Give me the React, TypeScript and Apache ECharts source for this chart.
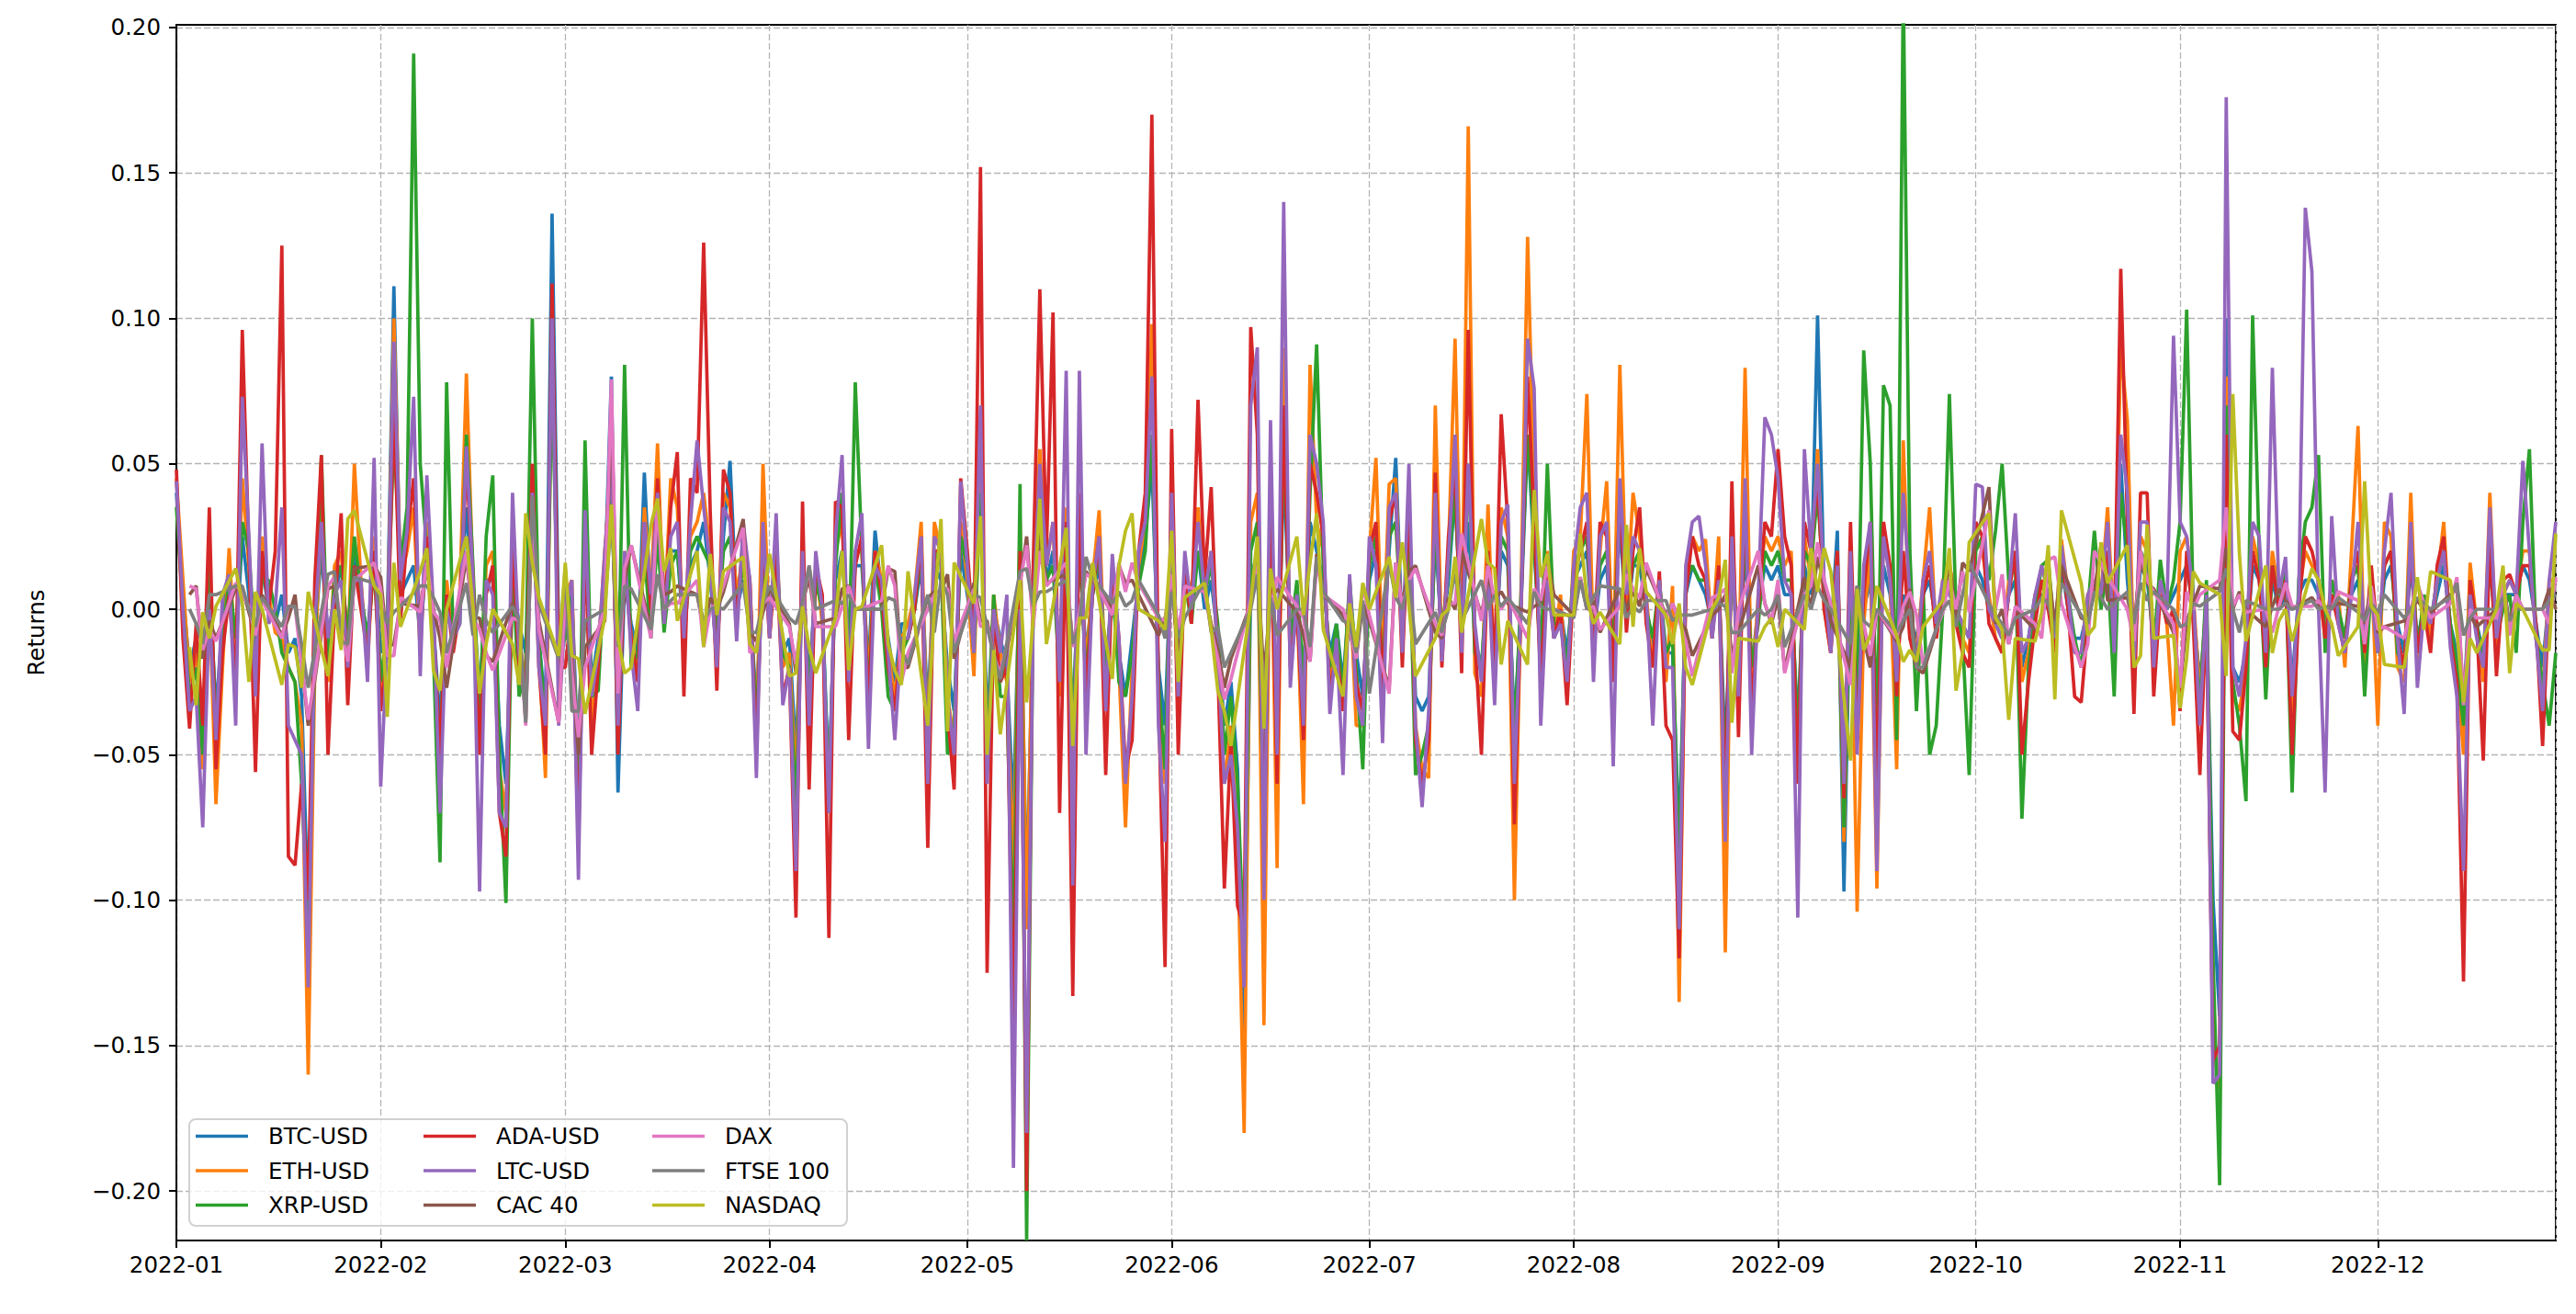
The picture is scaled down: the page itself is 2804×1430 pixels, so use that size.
import React, { useEffect, useRef } from "react";
import * as echarts from "echarts";

// ---------- Data (daily returns, in thousandths) ----------
const SERIES_NAMES = ["BTC-USD", "ETH-USD", "XRP-USD", "ADA-USD", "LTC-USD", "CAC 40", "DAX", "FTSE 100", "NASDAQ"];
const SERIES_COLORS = ["#1f77b4", "#ff7f0e", "#2ca02c", "#d62728", "#9467bd", "#8c564b", "#e377c2", "#7f7f7f", "#bcbd22"];

const CRYPTO_START = "2022-01-01";
const CRYPTO_DAYS = 362;
const INDEX_START = "2022-01-03";
const INDEX_END = "2022-12-28";
const X_MIN = "2022-01-01";
const X_MAX = "2022-12-28";
const Y_MIN = -0.217;
const Y_MAX = 0.2009;
const Y_TICKS = [-0.2, -0.15, -0.1, -0.05, 0, 0.05, 0.1, 0.15, 0.2];

const btcUsd = [
  40,5,-20,-10,-45,10,-35,-5,15,-15,25,5,-20,15,0,-5,5,-15,-10,-30,-105,-10,20,-10,5,15,-10,20,5,-10,20,
  -15,-5,111,5,10,15,-10,20,-5,-40,5,-5,0,35,5,-30,10,10,-40,-60,10,-5,-15,30,-10,-35,136,-10,
  0,5,-55,20,-25,-10,10,80,-63,10,-5,-15,47,0,30,-5,20,20,-10,15,20,30,10,-15,25,51,0,10,5,-35,20,
  -5,15,-15,-10,-50,10,-25,10,0,-60,10,20,-15,15,15,-20,27,5,-10,-25,-5,-5,0,15,-35,15,10,-20,-35,20,
  5,-10,40,-40,0,-10,-20,-70,20,-100,0,40,10,20,-20,20,-40,20,-15,5,15,-20,5,-15,-30,-10,10,25,50,-20,-40,
  25,-25,10,0,20,0,10,-10,-40,-25,-55,-150,10,20,-70,30,-40,50,-10,0,-30,30,20,10,-15,-5,-25,5,-15,-30,
  10,20,-15,20,52,-10,25,-30,-35,-30,25,-10,10,40,-10,30,-10,-20,10,-15,20,15,-40,0,60,20,-15,10,-5,0,-15,
  10,15,20,-10,10,15,-15,30,-5,15,15,0,-15,5,-15,-15,-80,5,15,10,5,-5,10,-50,15,-15,20,-20,0,15,10,
  15,5,5,-40,15,5,101,5,-10,27,-97,15,-40,0,10,-40,15,5,-20,5,-5,-10,5,10,-5,5,10,0,-5,-10,
  15,10,0,-5,-10,5,10,-20,-10,5,5,0,-5,15,0,-10,-10,0,5,5,20,-5,50,10,-15,15,10,-10,5,0,5,
  10,15,0,-25,0,-100,-140,100,-20,-25,-15,15,10,-10,10,0,5,-25,5,10,10,5,-5,5,0,-10,5,10,-10,5,
  -10,10,15,-5,-15,15,-10,0,-5,5,15,-5,-15,-35,10,-5,-15,15,-10,5,5,5,15,10,-5,-20,5,5,
];

const ethUsd = [
  45,10,-25,-15,-55,5,-67,-20,21,-20,45,15,-30,25,5,-8,-10,-20,-25,-40,-160,-20,35,-25,15,20,-15,50,10,-20,25,
  -30,-10,100,10,20,35,-15,30,-10,-55,10,-10,5,81,10,-45,15,20,-55,-70,20,-10,-25,50,-15,-58,95,-25,
  5,10,-75,30,-40,-15,20,50,-45,20,-10,-20,35,5,57,-5,45,35,-15,25,30,40,20,-20,40,35,5,20,10,-45,50,
  -10,25,-20,-15,-60,20,-35,15,-5,-70,20,30,-20,20,20,-25,20,10,-15,-30,-10,-5,5,30,-50,30,20,-30,-45,30,
  10,-23,50,-55,5,-15,-25,-90,30,-110,10,55,15,30,-30,35,-55,30,-20,10,34,-30,10,-20,-75,-20,15,30,98,-30,-60,
  35,-35,15,5,35,5,20,-15,-60,-40,-80,-180,30,40,-143,45,-89,90,-15,5,-67,84,30,20,-25,-10,-35,10,-40,-40,
  20,52,-20,43,45,-15,35,-40,-55,-58,70,-15,20,93,-15,166,-22,-30,36,-25,35,25,-100,5,128,40,-25,20,-10,5,-30,
  20,25,74,-15,20,44,-20,84,0,40,25,5,-20,10,-25,8,-135,10,25,20,24,-10,25,-118,30,-25,83,-30,5,25,20,
  25,15,20,-60,25,10,55,0,-15,20,-80,20,-104,-5,20,-96,30,10,-55,58,-10,-15,10,35,-10,10,15,5,-10,-15,
  25,20,5,-10,-15,10,20,-25,-15,5,10,5,-10,24,5,-15,-15,5,10,5,35,-10,90,65,-20,25,20,-15,10,-5,-40,
  20,25,5,-30,5,-150,-165,80,-30,-35,-20,25,15,-15,20,5,10,-35,5,20,15,10,-10,10,5,-20,20,63,-20,15,
  -40,30,25,-20,-25,40,-20,5,-10,10,30,-10,-20,-50,16,-5,-25,40,-15,5,10,5,20,20,-10,-30,10,10,
];

const xrpUsd = [
  35,0,-30,-20,-50,15,-40,-10,10,-10,30,20,-15,10,10,0,-15,-20,-25,-60,-110,-15,53,-20,10,15,-10,25,5,-10,15,
  -25,-5,60,15,35,191,50,20,-15,-87,78,-10,-5,60,15,-40,25,46,-50,-101,15,-30,-20,100,-10,-40,80,-15,
  -10,5,-70,58,-30,-28,15,40,-30,84,-20,-15,20,-10,25,-8,15,20,-5,20,25,20,15,-10,20,25,0,15,5,-40,15,
  -5,20,-15,-20,-70,15,-30,10,0,-65,15,40,-20,78,20,-30,15,0,-30,-35,-15,-10,0,20,-55,20,15,-50,-40,25,
  15,-15,40,-50,5,-30,-30,-120,43,-217,5,30,10,15,-25,25,-45,25,-25,5,20,-25,10,-25,-30,-15,8,20,60,-25,-55,
  30,-25,10,-5,20,5,15,-5,-50,-30,-60,-120,20,30,-80,35,-45,60,-10,10,-25,40,91,15,-20,-5,-30,10,-20,-55,
  15,25,-25,25,30,-10,30,-57,-50,-40,30,-10,15,40,-10,50,-15,-20,15,-20,25,20,-45,5,60,25,-20,50,-5,-5,-20,
  15,20,25,-10,15,20,-15,35,5,15,20,0,-10,10,-15,-10,-90,10,15,10,10,-5,10,-60,20,-20,25,-20,-5,20,15,
  20,10,10,-45,20,15,40,5,-10,15,-75,10,-30,89,50,-45,77,70,-45,215,20,-35,8,-50,-40,0,74,0,-10,-57,
  20,25,10,27,50,10,15,-72,-20,0,15,17,-10,10,5,-10,-20,0,27,0,15,-30,40,20,-10,20,15,-15,17,0,10,
  30,103,0,-35,10,-120,-198,70,-25,-40,-66,101,20,-31,15,2,15,-63,10,30,35,53,-15,10,0,-10,10,15,-30,10,
  -15,15,20,-15,-20,25,-15,5,-5,10,20,-5,-20,-40,5,-5,-20,20,-10,0,5,-15,30,55,-10,-25,-40,-15,
];

const adaUsd = [
  48,-10,-41,-5,-40,35,-55,-15,5,-25,96,20,-56,20,0,20,125,-85,-88,-60,-100,10,53,-50,0,33,-33,15,0,-15,20,
  -35,-15,70,-4,25,45,-10,25,-5,-50,5,-15,0,50,10,-50,5,15,-70,-85,25,-20,-30,50,-20,-50,112,-20,
  -20,0,-80,25,-50,-20,15,60,-50,15,-10,-25,30,0,45,-5,35,54,-30,45,40,126,33,-28,48,40,-5,25,10,-50,25,
  -10,20,-30,-20,-106,37,-62,15,5,-113,37,35,-45,15,25,-35,20,5,-20,-35,-10,-10,0,25,-82,20,20,-35,-62,45,
  20,-10,152,-125,0,-25,-20,-150,20,-200,15,110,20,102,-70,30,-133,40,-30,5,25,-57,15,-10,-55,-45,20,40,170,-30,-123,
  62,-50,15,-5,72,10,42,-20,-96,-45,-102,-110,97,60,-85,40,-60,70,-20,0,-45,50,40,25,-30,-13,-35,5,-25,-35,
  20,30,-30,30,40,-20,40,-45,-60,-45,47,-20,25,50,-22,96,-10,-50,20,-20,67,30,-74,0,80,30,-25,15,-10,0,-33,
  10,20,30,-15,30,25,-25,40,-8,20,35,-5,-20,13,-40,-45,-120,5,25,15,10,-10,15,-70,44,-44,40,-35,0,30,25,
  55,25,15,-60,30,20,45,0,-15,20,-65,30,-45,5,30,-60,30,15,-30,20,-10,-20,5,15,-10,5,10,-5,-15,-20,
  30,25,-5,-10,-15,5,20,-50,-25,-5,10,0,-15,20,0,-30,-32,-5,10,5,20,-10,117,30,-36,40,40,-30,5,-5,0,
  -35,20,-5,-57,0,-155,-150,60,-42,-45,-20,20,10,-20,15,0,10,-50,0,25,20,10,-10,5,-5,-15,10,20,-15,15,
  -10,15,20,-10,-20,20,-15,0,-15,15,25,-10,-25,-128,10,-5,-52,25,-23,10,12,5,15,15,-5,-47,5,10,
];

const ltcUsd = [
  44,0,-35,-30,-75,0,-45,5,12,-40,73,25,-30,57,-5,0,35,-40,-45,-50,-130,-5,30,-10,5,10,-20,10,10,-25,52,
  -61,-10,92,10,27,73,-23,46,0,-70,0,-10,-5,56,10,-97,10,5,-70,-75,40,-15,-35,40,-20,-40,100,-40,
  0,10,-93,34,-30,-15,20,50,-40,20,-15,-35,30,5,40,-5,25,30,-10,30,58,35,15,-20,35,30,-11,30,10,-58,30,
  -10,33,-33,-20,-90,20,-40,20,0,-70,25,53,-25,20,33,-48,15,10,-15,-45,-10,-10,5,25,-60,25,20,-30,-50,44,
  15,-15,70,-60,0,-15,5,-192,0,-180,0,50,15,30,-25,82,-95,82,-50,8,25,-35,19,-10,-60,-30,20,30,80,-40,-80,
  40,-30,20,0,30,5,20,-15,-60,-50,-75,-130,70,90,-100,65,-50,140,-27,5,-40,60,50,30,-36,-10,-57,12,-30,-40,
  25,15,-46,35,40,-15,50,-40,-68,-35,40,-18,18,60,-15,50,-5,-25,15,-33,30,36,-60,0,93,76,-40,10,-10,-5,-25,
  15,35,40,-25,25,30,-54,45,5,25,20,5,-40,10,-20,-20,-110,15,30,32,15,-10,10,-80,25,-30,45,-50,5,66,60,
  45,10,5,-106,55,20,50,10,-15,15,-60,20,-50,15,30,-90,25,10,-25,40,5,-20,10,20,-5,10,5,0,-5,-10,
  43,42,0,-5,-10,5,33,-15,-10,5,15,5,-10,22,5,-15,-15,5,10,5,30,-15,60,40,-20,30,30,-20,10,0,94,
  30,25,5,-40,5,-163,-160,176,-20,-30,-10,30,25,-15,83,5,18,-30,5,138,116,0,-63,32,-5,-15,5,30,-10,5,
  -15,20,40,-10,-36,30,-27,0,-5,10,20,-13,-30,-90,5,-10,-20,35,-10,5,10,5,51,20,-10,-35,10,30,
];

// Index returns on weekdays (thousandths)
const cac40 = [
  5,8,-17,-4,-10, 7,7,-1,-9,5, -9,-3,5,-18,-40, 7,8,-6,-15,14, 15,11,-13,-12,2,
  1,14,0,-10,-27, 18,-3,-3,-16,-18, 2,-5,-38,36,-4, -39,10,-18,-50,-13, -4,71,-28,10,22,
  -7,36,5,6,8, 5,-7,4,0,6, 31,-8,-11,-1,7, -5,-22,2,11,-5, -3,7,8,0,0,
  0,14,13,-20,-20, 4,6,6,12,-17, 9,-4,-4,-15,-25, 9,25,-4,25,9, 12,-12,-2,13,10,
  0,15,9,10,5, -9,-3,8,-14,8, 6,-5,-14,-27,-17, 2,15,-23,3,7, -1,-9,-18,19,5,
  -2,-8,-17,2,-4, -27,16,2,13,15, -8,-10,4,0,20, -2,11,4,6,2, -1,1,2,17,5,
  -2,11,0,3,-8, 7,0,6,1,14, -2,2,-4,-7,-16, -2,0,5,-16,-8, 15,2,-5,4,-21,
  11,0,18,8,-4, -20,8,-10,-20,0, -11,-6,7,-20,-22, 0,16,-3,16,13, 42,-5,0,-12,0,
  -7,-3,14,-6,15, -3,-4,6,22,3, 4,-6,17,9,7, -8,-27,-4,2,8, 7,21,0,6,0,
  -6,1,7,3,0, 4,1,0,1,2, 1,-5,8,-8,-6, -4,0,3,0,-1, 5,7,-31,-2,-6,
  0,9,-5,5,0, 0,7,0,
];

const dax = [
  8,7,-14,-7,-11, 9,5,1,-9,3, -10,1,1,-19,-38, 8,11,-6,-18,10, 16,7,-16,-16,4,
  -1,16,-1,-4,-20, 20,-3,-7,-15,-21, -3,-4,-40,37,-7, -39,7,-22,-44,-20, 0,79,-29,14,22,
  -10,38,0,2,2, 10,-13,0,2,8, 28,-15,-13,2,4, -6,-19,1,15,-6, -6,1,8,0,0,
  3,15,8,-25,-15, 0,5,7,7,-11, 7,-6,-5,-16,-22, 9,22,-6,20,8, 16,-13,-1,12,11,
  -2,16,6,16,9, -3,-4,12,-8,8, 6,-7,-17,-31,-24, 3,15,-33,0,11, 1,-3,-18,16,5,
  0,-7,-17,8,-2, -29,16,1,10,14, -5,-9,2,2,26, -4,15,3,0,4, -10,7,3,15,0,
  -3,11,0,1,-7, 1,12,7,4,16, -3,2,-4,-11,-23, 4,5,7,-22,0, 20,2,-4,10,-22,
  5,8,23,10,2, -26,1,-5,-16,0, -10,1,6,-2,-19, -1,10,0,13,-1, 34,0,12,-12,1,
  -5,-10,17,18,2, -20,-12,20,16,11, 0,-11,20,10,6, -5,-27,6,0,5, 10,35,1,5,-1,
  0,-8,1,9,1, 1,3,0,0,6, 3,-12,8,-7,-6, -10,0,9,2,-3, 2,11,-33,0,-3,
  -3,10,-9,5,0, 0,-5,11,
];

const ftse100 = [
  0,-5,-12,5,5, 8,8,0,-6,4, -6,1,1,-12,-27, 12,13,-11,-12,11, 9,1,-5,-1,1,
  8,8,4,-1,-15, 9,-9,5,-4,-8, 1,-4,-39,39,2, -17,14,-35,-35,-4, 0,33,-13,8,7,
  -7,12,0,3,5, 5,-4,0,1,0, 9,-8,-8,2,8, -3,-5,2,15,0, 3,2,5,0,0,
  0,4,3,-14,-19, 5,-8,10,5,-15, 5,4,-6,-16,-24, 13,14,1,6,6, 10,-12,-5,18,11,
  2,6,1,3,10, -2,-10,6,-10,-3, 10,-8,-6,-20,-15, 0,12,-32,4,-9, 0,0,-13,18,6,
  -4,-5,-15,3,-29, 16,4,0,10,-12, -1,-8,0,13,-4, 10,0,5,1,4, -5,6,1,0,0,
  -3,10,0,4,8, 7,-3,1,-1,3, 3,-4,-2,-2,-2, 0,2,1,-8,-8, 0,-2,0,5,-13,
  5,0,8,3,0, -12,8,-4,-6,0, -8,-4,0,-20,-20, 0,3,-6,5,16, 2,-2,-5,-9,-3,
  0,4,2,-8,9, -2,-5,6,4,0, 6,-5,9,3,6, 0,-6,-5,2,1, 6,14,0,-8,3,
  0,0,0,2,0, 3,0,1,0,4, -1,-4,2,-1,5, -3,0,4,2,0, 4,9,-9,-3,0,
  0,4,-4,0,0, 0,3,5,
];

const nasdaq = [
  -13,-33,-1,-10,1, 14,2,-25,6,0, -26,-12,-13,-27,6, -23,0,-14,31,34, 8,5,-37,16,-6,
  13,21,-21,-28,0, 25,1,-29,-12,0, -12,-26,33,16,4, -16,16,-16,-17,-36, -3,36,-10,-22,-20,
  29,38,13,21,-4, 20,-13,19,-2,13, 18,-12,-15,3,19, -23,-22,1,-13,-22, -3,20,-21,0,1,
  22,-12,-21,-26,13, -40,0,31,-42,16, 2,32,-50,-14,-43, 10,-32,-3,38,-12, 28,-47,-3,-3,16,
  -24,15,27,33,0, -4,-7,27,-25,4, 9,-7,-28,-35,-47, 2,25,-41,14,0, 25,-2,16,33,-7,
  -30,2,-13,9,0, 18,4,23,1,-23, -10,-2,0,18,-8, 31,16,14,-19,-4, -19,41,11,19,-2,
  -2,26,4,-5,-1, -12,29,-6,21,6, -2,-12,2,-20,-26, 0,4,17,-39,-10, -11,-6,-3,-13,0,
  -7,21,6,21,13, -52,7,-14,-9,8, -9,-18,-14,-18,-6, 3,21,-28,-15,23, 33,-3,-7,-38,-10,
  -11,-1,22,-31,34, 9,-9,-6,23,9, 22,-20,-16,29,-10, -9,-34,-17,13,9, 5,-23,74,19,-11,
  15,-15,-4,0,-11, 14,10,0,-5,-16, -6,44,1,-2,-19, -20,-5,11,-7,13, 10,-8,-32,-10,-15,
  0,15,-22,2,0, -14,-14,26,
];

// ---------- Helpers ----------
function fmtDate(d: Date): string {
  const m = String(d.getMonth() + 1).padStart(2, "0");
  const day = String(d.getDate()).padStart(2, "0");
  return `${d.getFullYear()}-${m}-${day}`;
}
function parseYMD(s: string): Date {
  const [y, m, d] = s.split("-").map(Number);
  return new Date(y, m - 1, d);
}
function dailyDates(start: string, n: number): string[] {
  const out: string[] = [];
  const d = parseYMD(start);
  for (let i = 0; i < n; i++) {
    out.push(fmtDate(d));
    d.setDate(d.getDate() + 1);
  }
  return out;
}
function weekdayDates(start: string, end: string): string[] {
  const out: string[] = [];
  const d = parseYMD(start);
  const e = parseYMD(end);
  while (d <= e) {
    const wd = d.getDay();
    if (wd > 0 && wd < 6) out.push(fmtDate(d));
    d.setDate(d.getDate() + 1);
  }
  return out;
}

const FONT = "DejaVu Sans";

export default function App() {
  const ref = useRef<HTMLDivElement>(null);

  useEffect(() => {
    if (!ref.current) return;
    const chart = echarts.init(ref.current, null, { renderer: "svg" });

    const cryptoDates = dailyDates(CRYPTO_START, CRYPTO_DAYS);
    const indexDates = weekdayDates(INDEX_START, INDEX_END);
    const allValues = [btcUsd, ethUsd, xrpUsd, adaUsd, ltcUsd, cac40, dax, ftse100, nasdaq];

    const series = SERIES_NAMES.map((name, k) => {
      const dates = k < 5 ? cryptoDates : indexDates;
      const vals = allValues[k];
      const n = Math.min(dates.length, vals.length);
      const data: [string, number][] = [];
      for (let i = 0; i < n; i++) data.push([dates[i], vals[i] / 1000]);
      return {
        name,
        type: "line",
        data,
        showSymbol: false,
        symbol: "none",
        color: SERIES_COLORS[k],
        lineStyle: { width: 3.7, color: SERIES_COLORS[k] },
        emphasis: { disabled: true },
        silent: true,
        z: 2,
      };
    });

    const legendCommon = {
      orient: "vertical",
      icon: "rect",
      itemWidth: 57,
      itemHeight: 3.7,
      itemGap: 12.5,
      padding: 0,
      selectedMode: false,
      z: 5,
      textStyle: { fontSize: 24.5, fontFamily: FONT, color: "#000", padding: [0, 0, 0, 17] },
    };

    const gridLine = { show: true, lineStyle: { color: "#b5b5b5", width: 1.3, type: [7, 3] } };

    chart.setOption({
      animation: false,
      backgroundColor: "#fff",
      grid: {
        left: 192,
        right: 22,
        top: 27,
        bottom: 80,
        show: true,
        borderColor: "#000",
        borderWidth: 2,
        backgroundColor: "transparent",
      },
      xAxis: {
        type: "time",
        min: X_MIN,
        max: X_MAX,
        splitNumber: 12,
        axisLine: { show: true, onZero: false, lineStyle: { color: "#000", width: 2 } },
        axisTick: { show: true, length: 8, lineStyle: { color: "#000", width: 2 } },
        axisLabel: {
          fontSize: 24.5,
          fontFamily: FONT,
          color: "#000",
          margin: 14,
          hideOverlap: false,
          formatter: (val: number) => {
            const d = new Date(val);
            return `${d.getFullYear()}-${String(d.getMonth() + 1).padStart(2, "0")}`;
          },
        },
        splitLine: gridLine,
      },
      yAxis: {
        type: "value",
        min: Y_MIN,
        max: Y_MAX,
        splitNumber: 8,
        name: "Returns",
        nameLocation: "middle",
        nameGap: 140,
        nameTextStyle: { fontSize: 24.5, fontFamily: FONT, color: "#000" },
        axisLine: { show: true, onZero: false, lineStyle: { color: "#000", width: 2 } },
        axisTick: { show: true, length: 8, lineStyle: { color: "#000", width: 2 }, customValues: Y_TICKS },
        axisLabel: {
          customValues: Y_TICKS,
          fontSize: 24.5,
          fontFamily: FONT,
          color: "#000",
          margin: 17,
          formatter: (v: number) => (v < 0 ? "\u2212" : "") + Math.abs(v).toFixed(2),
        },
        splitLine: gridLine,
      },
      legend: [
        { ...legendCommon, left: 213, top: 1224, data: SERIES_NAMES.slice(0, 3) },
        { ...legendCommon, left: 461, top: 1224, data: SERIES_NAMES.slice(3, 6) },
        { ...legendCommon, left: 710, top: 1224, data: SERIES_NAMES.slice(6, 9) },
      ],
      graphic: [
        {
          type: "rect",
          left: 205,
          top: 1217,
          z: 3,
          shape: { width: 716, height: 116, r: 7 },
          style: { fill: "rgba(255,255,255,0.8)", stroke: "rgba(204,204,204,0.9)", lineWidth: 2 },
          silent: true,
        },
      ],
      series,
    });

    return () => {
      chart.dispose();
    };
  }, []);

  return (
    <div
      ref={ref}
      style={{ position: "fixed", left: 0, top: 0, width: "2804px", height: "1430px", background: "#fff" }}
    />
  );
}
